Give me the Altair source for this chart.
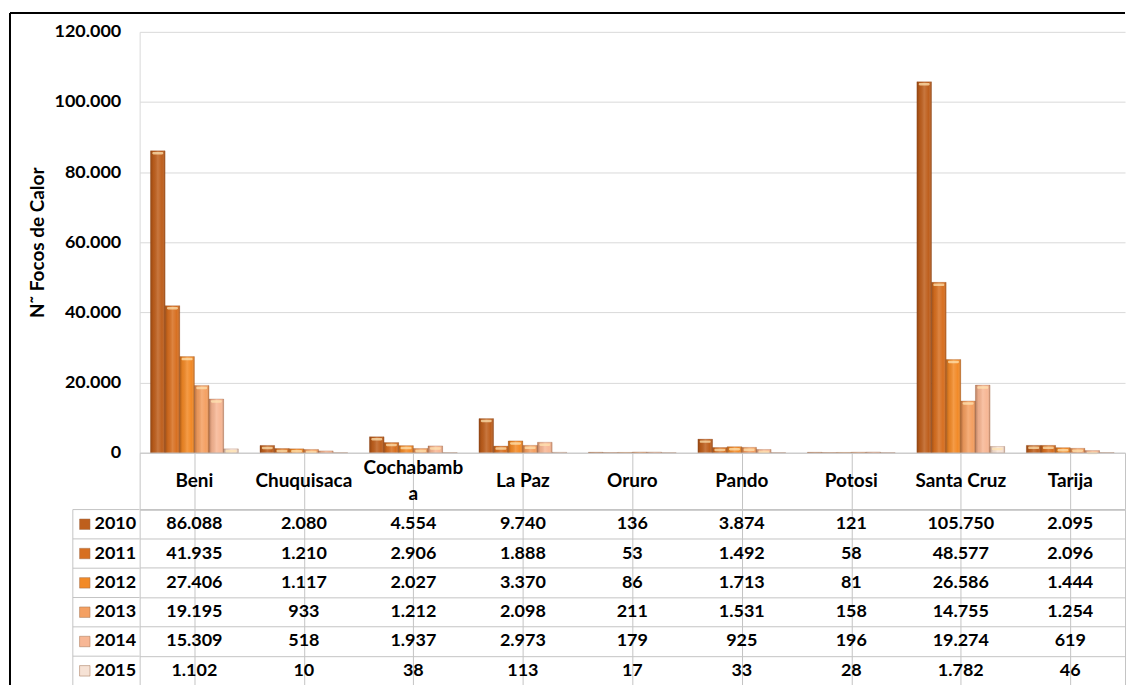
import altair as alt
import pandas as pd

depts = ["Beni", "Chuquisaca", "Cochabamba", "La Paz", "Oruro", "Pando", "Potosi", "Santa Cruz", "Tarija"]
header_labels = ["Beni", "Chuquisaca", "Cochabamb\na", "La Paz", "Oruro", "Pando", "Potosi", "Santa Cruz", "Tarija"]
years = ["2010", "2011", "2012", "2013", "2014", "2015"]

v2010 = [86088, 2080, 4554, 9740, 136, 3874, 121, 105750, 2095]
v2011 = [41935, 1210, 2906, 1888, 53, 1492, 58, 48577, 2096]
v2012 = [27406, 1117, 2027, 3370, 86, 1713, 81, 26586, 1444]
v2013 = [19195, 933, 1212, 2098, 211, 1531, 158, 14755, 1254]
v2014 = [15309, 518, 1937, 2973, 179, 925, 196, 19274, 619]
v2015 = [1102, 10, 38, 113, 17, 33, 28, 1782, 46]

colors = ["#BE5F1D", "#D76F20", "#F28A27", "#F4A062", "#F7B795", "#F6E2D5"]
y_ticks = [0, 20000, 40000, 60000, 80000, 100000, 120000]
y_title = "N\u02dc Focos de Calor"

series = [v2010, v2011, v2012, v2013, v2014, v2015]
rows = []
for yr, vals in zip(years, series):
    for d, v in zip(depts, vals):
        rows.append({"dept": d, "year": yr, "value": v,
                     "label": f"{v:,}".replace(",", ".")})
df = pd.DataFrame(rows)
hdf = pd.DataFrame({"dept": depts, "label": header_labels})
hdf["multi"] = hdf["label"].str.contains("\n")
ydf = pd.DataFrame({"year": years})

FONT = "Lato"
W = 988
H = 422
HH = 56.5
TH = 176.4
GRID = "#d9d9d9"
BORDER = "#c4c4c4"

xscale = alt.Scale(domain=depts, paddingInner=0, paddingOuter=0)

x_bar = alt.X("dept:N", sort=depts, scale=xscale, axis=None)
xoff = alt.XOffset("year:N", sort=years,
                   scale=alt.Scale(domain=years, paddingInner=0, paddingOuter=0.74))
y_bar = alt.Y("value:Q", scale=alt.Scale(domain=[0, 120000], nice=False),
              axis=alt.Axis(values=y_ticks,
                            labelExpr="replace(format(datum.value, ','), ',', '.')",
                            grid=True, gridColor=GRID, domainColor=GRID, ticks=False,
                            labelFont=FONT, labelFontWeight="bold", labelFontSize=18,
                            labelColor="black", labelPadding=19,
                            title=y_title, titleFont=FONT, titleFontSize=19,
                            titleFontWeight="bold", titleColor="black", titlePadding=6))

bars = alt.Chart(df).mark_bar(stroke="#8a4a20", strokeWidth=0.4, strokeOpacity=0.6).encode(
    x=x_bar, xOffset=xoff, y=y_bar,
    color=alt.Color("year:N", sort=years, scale=alt.Scale(domain=years, range=colors), legend=None),
)
shade = alt.Chart(df).mark_bar(
    fill=alt.Gradient(gradient="linear", x1=0, x2=1, y1=0, y2=0,
                      stops=[alt.GradientStop(offset=0, color="rgba(70,25,0,0.35)"),
                             alt.GradientStop(offset=0.2, color="rgba(70,25,0,0.08)"),
                             alt.GradientStop(offset=0.5, color="rgba(255,255,255,0.15)"),
                             alt.GradientStop(offset=0.8, color="rgba(255,255,255,0.0)"),
                             alt.GradientStop(offset=1, color="rgba(70,25,0,0.3)")])
).encode(x=x_bar, xOffset=xoff, y="value:Q")
caps = alt.Chart(df).transform_filter("datum.value > 600").mark_tick(
    color="#FFE3B0", opacity=0.75, thickness=2.5, size=11, yOffset=2.5, cornerRadius=1.2
).encode(x=x_bar, xOffset=xoff, y="value:Q")

one = pd.DataFrame({"a": [0]})
frame_left = alt.Chart(one).mark_rule(color="black", strokeWidth=2).encode(
    x=alt.value(-130), y=alt.value(-19), y2=alt.value(H + HH + TH))
frame_top = alt.Chart(one).mark_rule(color="black", strokeWidth=2).encode(
    x=alt.value(-130), x2=alt.value(W), y=alt.value(-19))

bar_chart = alt.layer(bars, shade, caps, frame_left, frame_top).properties(
    width=W, height=H, view=alt.ViewBackground(stroke="transparent"))

x_tab = alt.X("dept:N", sort=depts, scale=xscale,
              axis=alt.Axis(labels=False, ticks=False, domain=False, grid=True,
                            bandPosition=0, gridColor=BORDER, title=None))

head_one = alt.Chart(hdf).transform_filter("!datum.multi").mark_text(
    font=FONT, fontWeight="bold", fontSize=19, baseline="middle", color="black").encode(
    x=x_tab, y=alt.value(HH / 2), text="label:N")
head_two = alt.Chart(hdf).transform_filter("datum.multi").mark_text(
    font=FONT, fontWeight="bold", fontSize=19, lineBreak="\n", lineHeight=26,
    baseline="middle", dy=-13, color="black").encode(
    x=x_tab, y=alt.value(HH / 2), text="label:N")

header = alt.layer(head_one, head_two).properties(
    width=W, height=HH, view=alt.ViewBackground(stroke=BORDER))

y_tab = alt.Y("year:N", sort=years, scale=alt.Scale(domain=years, paddingInner=0, paddingOuter=0),
              axis=alt.Axis(title=None, grid=True, bandPosition=0, gridColor=BORDER,
                            ticks=False, domain=False,
                            labelFont=FONT, labelFontWeight="bold", labelFontSize=18,
                            labelColor="black", labelPadding=4))

cells = alt.Chart(df).mark_text(font=FONT, fontWeight="bold", fontSize=18, color="black",
                                baseline="middle").encode(
    x=x_tab, y=y_tab, text="label:N")

row_lines = alt.Chart(ydf).mark_rule(color=BORDER, strokeWidth=1).encode(
    y=alt.Y("year:N", sort=years, bandPosition=0), x=alt.value(-67), x2=alt.value(0))
col_left = alt.Chart(one).mark_rule(color=BORDER, strokeWidth=1).encode(
    x=alt.value(-67), y=alt.value(0), y2=alt.value(TH))
squares = alt.Chart(ydf).mark_square(size=110, stroke="#a0704f", strokeWidth=0.5, opacity=1).encode(
    x=alt.value(-55), y=alt.Y("year:N", sort=years),
    color=alt.Color("year:N", sort=years, scale=alt.Scale(domain=years, range=colors), legend=None))

table = alt.layer(cells, row_lines, col_left, squares).properties(
    width=W, height=TH, view=alt.ViewBackground(stroke=BORDER))

chart = alt.vconcat(bar_chart, header, table, spacing=0, bounds="flush").properties(
    padding={"left": 0, "top": 2, "right": 0, "bottom": 0}
).configure_view(stroke="transparent").configure(background="white")

chart.save("out.html", embed_options={"renderer": "svg", "actions": False})
